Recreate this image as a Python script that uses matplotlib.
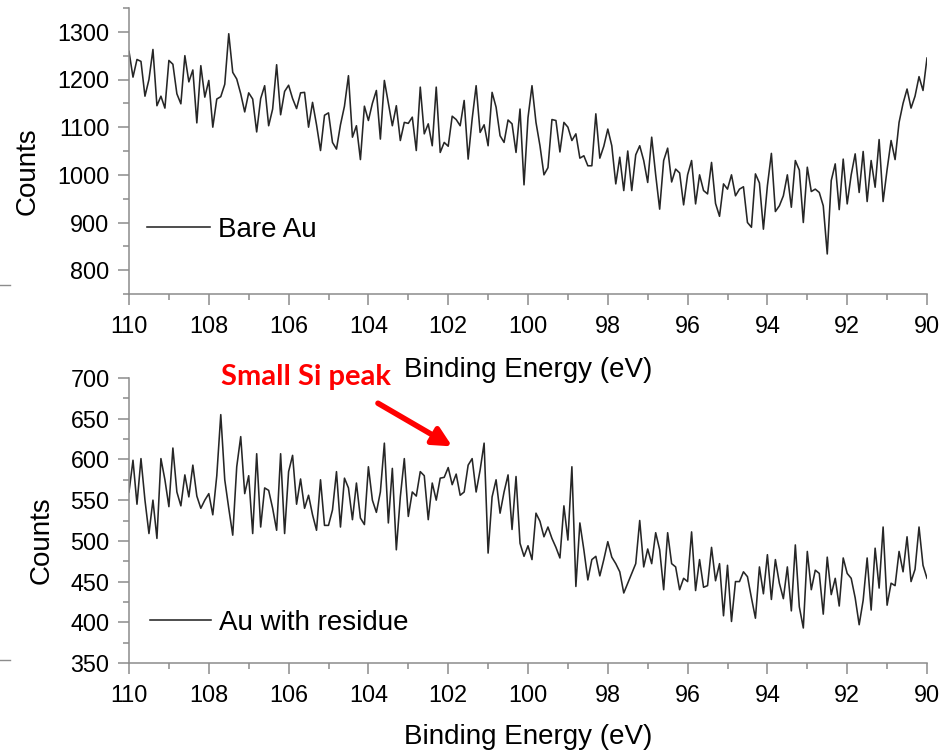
import numpy as np
import matplotlib
matplotlib.use("Agg")
import matplotlib.pyplot as plt
from matplotlib.ticker import MultipleLocator
from matplotlib.lines import Line2D

# Binding-energy grid: 110 eV down to 90 eV in 0.1 eV steps (201 channels)
e_start, e_stop, e_step = 110.0, 90.0, 0.1
energy = np.round(np.linspace(e_start, e_stop, 201), 2)

# Si 2p region, bare gold reference
bare_au = [
    1259, 1205, 1242, 1238, 1165, 1200, 1263, 1145, 1165, 1140,
    1240, 1232, 1170, 1149, 1250, 1195, 1220, 1109, 1229, 1163,
    1198, 1100, 1159, 1164, 1190, 1296, 1215, 1201, 1170, 1132,
    1172, 1159, 1090, 1160, 1187, 1103, 1138, 1231, 1126, 1175,
    1188, 1160, 1139, 1172, 1173, 1100, 1152, 1105, 1051, 1125,
    1130, 1068, 1054, 1105, 1144, 1208, 1079, 1103, 1032, 1144,
    1114, 1150, 1177, 1075, 1198, 1150, 1103, 1145, 1072, 1110,
    1108, 1121, 1051, 1184, 1086, 1107, 1061, 1184, 1047, 1068,
    1060, 1123, 1116, 1103, 1156, 1033, 1117, 1187, 1089, 1105,
    1061, 1173, 1142, 1082, 1068, 1115, 1107, 1047, 1138, 979,
    1120, 1187, 1110, 1061, 1000, 1015, 1116, 1114, 1048, 1110,
    1100, 1072, 1086, 1035, 1040, 1019, 1019, 1128, 1035, 1060,
    1096, 1061, 981, 1037, 967, 1050, 967, 1042, 1061, 1030,
    984, 1079, 1000, 928, 1030, 1056, 985, 1012, 1004, 937,
    1000, 1030, 939, 1000, 967, 960, 1026, 940, 913, 981,
    970, 1000, 956, 970, 975, 900, 890, 1002, 983, 886,
    977, 1045, 923, 935, 956, 1000, 932, 1030, 1010, 900,
    1016, 965, 970, 963, 935, 834, 988, 1023, 927, 1033,
    939, 1000, 1044, 963, 1049, 944, 1030, 974, 1074, 944,
    1011, 1072, 1032, 1110, 1150, 1180, 1140, 1165, 1206, 1177,
    1245,
]

# Same region, gold with residue
au_residue = [
    560, 599, 545, 601, 550, 509, 550, 503, 601, 575,
    542, 614, 560, 543, 581, 554, 593, 555, 540, 550,
    558, 532, 580, 655, 575, 540, 507, 591, 628, 558,
    580, 509, 607, 517, 565, 562, 540, 513, 607, 509,
    585, 605, 545, 576, 540, 556, 532, 513, 575, 519,
    519, 538, 585, 517, 577, 565, 526, 571, 528, 520,
    591, 550, 535, 560, 620, 522, 589, 489, 554, 601,
    530, 560, 555, 585, 580, 526, 571, 550, 577, 578,
    590, 569, 582, 556, 560, 593, 601, 560, 587, 620,
    485, 554, 575, 534, 560, 581, 514, 579, 497, 481,
    494, 477, 534, 524, 505, 517, 503, 492, 479, 543,
    501, 591, 444, 522, 489, 452, 477, 481, 457, 477,
    499, 480, 472, 462, 436, 448, 460, 472, 525, 468,
    490, 472, 510, 489, 440, 510, 472, 468, 440, 454,
    450, 511, 439, 477, 443, 445, 492, 451, 472, 408,
    470, 401, 450, 450, 462, 456, 430, 405, 468, 435,
    483, 428, 477, 448, 429, 468, 414, 495, 419, 393,
    487, 440, 464, 460, 410, 480, 434, 454, 420, 479,
    460, 454, 430, 397, 427, 479, 415, 491, 442, 517,
    421, 448, 445, 487, 462, 505, 450, 465, 517, 470,
    454,
]

x_ticks = [110, 108, 106, 104, 102, 100, 98, 96, 94, 92, 90]
legend_labels = ["Bare Au", "Au with residue"]
x_title = "Binding Energy (eV)"
y_title = "Counts"
note_text = "Small Si peak"

plt.rcParams["font.family"] = ["Liberation Sans", "DejaVu Sans"]

axis_grey = "#8c8c8c"
trace_col = "#262626"

fig = plt.figure(figsize=(9.48, 7.51), dpi=100)
W, H = 948, 751
ax1 = fig.add_axes([129 / W, 1 - 294 / H, 798 / W, 286 / H])
ax2 = fig.add_axes([129 / W, 1 - 663 / H, 798 / W, 285 / H])


def style(ax, ylim, major, minor):
    ax.patch.set_visible(False)
    ax.set_xlim(110, 90)
    ax.set_ylim(*ylim)
    ax.set_xticks(x_ticks)
    ax.xaxis.set_minor_locator(MultipleLocator(1))
    ax.yaxis.set_major_locator(MultipleLocator(major))
    ax.yaxis.set_minor_locator(MultipleLocator(minor))
    for side in ("top", "right"):
        ax.spines[side].set_visible(False)
    for side in ("left", "bottom"):
        ax.spines[side].set_color(axis_grey)
        ax.spines[side].set_linewidth(1.1)
    ax.tick_params(axis="both", which="major", direction="out", length=8,
                   width=1.1, color=axis_grey, labelsize=16.8, labelcolor="black")
    ax.tick_params(axis="both", which="minor", direction="out", length=4.5,
                   width=1.1, color=axis_grey)
    ax.tick_params(axis="x", which="major", pad=7)
    ax.tick_params(axis="y", which="major", pad=6)


style(ax1, (750, 1350), 100, 50)
style(ax2, (350, 700), 50, 25)

ax1.plot(energy, bare_au, color=trace_col, lw=1.15, label=legend_labels[0])
ax2.plot(energy, au_residue, color=trace_col, lw=1.15, label=legend_labels[1])

for ax, ly, xy in ((ax1, -0.266, (-0.1266, 0.430)), (ax2, -0.26, (-0.109, 0.4316))):
    ax.set_xlabel(x_title, fontsize=20, va="center")
    ax.xaxis.set_label_coords(0.5006, ly)
    ax.set_ylabel(y_title, fontsize=20, va="center")
    ax.yaxis.set_label_coords(*xy)

ax1.legend(loc="center left", bbox_to_anchor=(0.0226, 0.2238), frameon=False,
           fontsize=20, handlelength=2.27, handletextpad=0.3, borderpad=0,
           borderaxespad=0)
ax2.legend(loc="center left", bbox_to_anchor=(0.0263, 0.140), frameon=False,
           fontsize=20, handlelength=2.2, handletextpad=0.3, borderpad=0,
           borderaxespad=0)

# annotation pointing at the weak Si feature near 102 eV
ax2.text(105.56, 701, note_text, color="#ff0000", fontsize=21,
         fontweight="bold", family=["Lato", "DejaVu Sans"],
         ha="center", va="center")
ax2.annotate("", xy=(101.9, 616), xytext=(103.76, 669),
             arrowprops=dict(arrowstyle="-|>", color="#ff0000", lw=4,
                             mutation_scale=28, shrinkA=0, shrinkB=0),
             annotation_clip=False)

# short grey rules at the far left edge
for yy in (285, 660):
    fig.add_artist(Line2D([0, 10 / W], [1 - yy / H, 1 - yy / H],
                          color=axis_grey, lw=1.0))

fig.savefig("out.png", dpi=100)
